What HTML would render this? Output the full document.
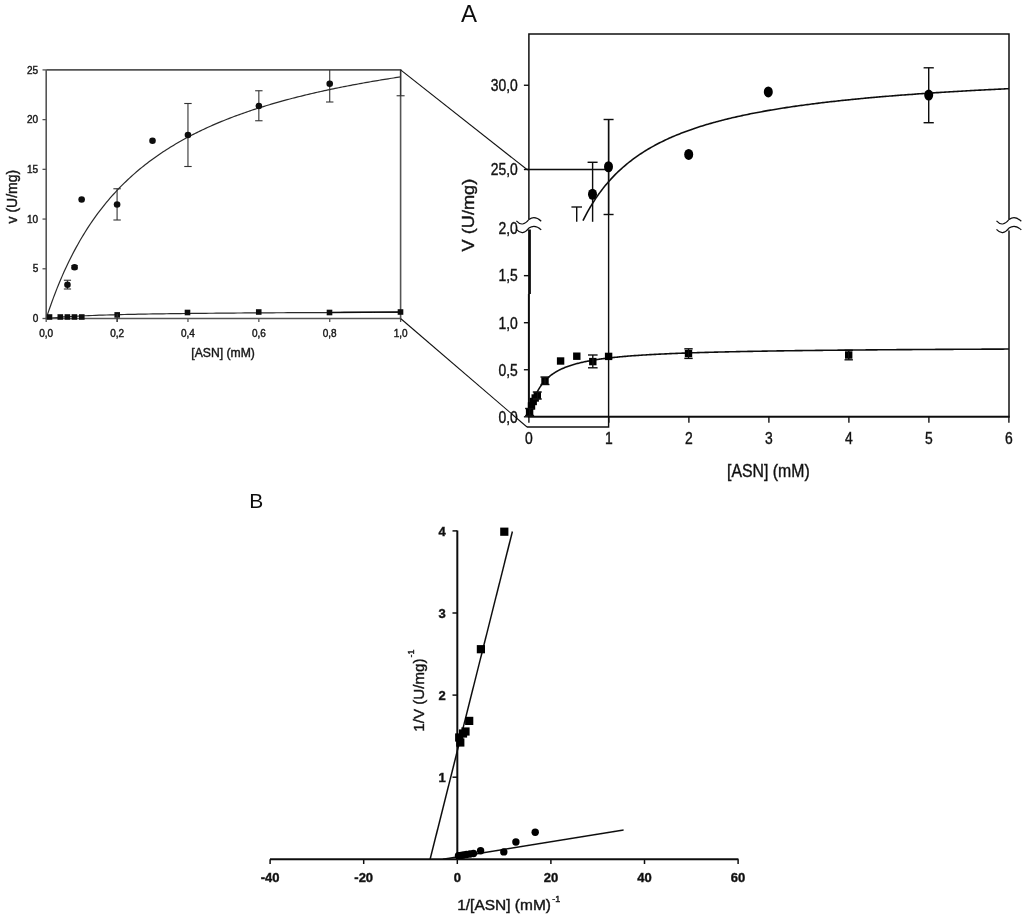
<!DOCTYPE html>
<html><head><meta charset="utf-8"><style>
html,body{margin:0;padding:0;background:#fff;}
svg{display:block;}
text{font-family:"Liberation Sans", sans-serif;stroke:#1a1a1a;stroke-width:0.4px;}
text.n{stroke:none;}
</style></head><body>
<svg width="1024" height="917" viewBox="0 0 1024 917">
<defs><filter id="bl" filterUnits="userSpaceOnUse" x="0" y="0" width="1024" height="917"><feGaussianBlur stdDeviation="0.45"/></filter></defs>
<rect width="1024" height="917" fill="#fff"/>
<g filter="url(#bl)">
<path d="M46.20,318.50 L47.97,313.14 L49.74,307.96 L51.52,302.96 L53.29,298.12 L55.06,293.43 L56.83,288.90 L58.60,284.50 L60.38,280.24 L62.15,276.12 L63.92,272.11 L65.69,268.22 L67.46,264.45 L69.24,260.78 L71.01,257.22 L72.78,253.75 L74.55,250.38 L76.32,247.11 L78.10,243.92 L79.87,240.81 L81.64,237.78 L83.41,234.84 L85.18,231.96 L86.96,229.16 L88.73,226.43 L90.50,223.76 L92.27,221.16 L94.04,218.63 L95.82,216.15 L97.59,213.72 L99.36,211.36 L101.13,209.05 L102.90,206.79 L104.68,204.58 L106.45,202.42 L108.22,200.30 L109.99,198.23 L111.76,196.21 L113.54,194.23 L115.31,192.29 L117.08,190.39 L118.85,188.53 L120.62,186.70 L122.40,184.91 L124.17,183.16 L125.94,181.45 L127.71,179.76 L129.48,178.11 L131.26,176.49 L133.03,174.90 L134.80,173.34 L136.57,171.81 L138.34,170.31 L140.12,168.83 L141.89,167.38 L143.66,165.96 L145.43,164.56 L147.20,163.19 L148.98,161.84 L150.75,160.51 L152.52,159.21 L154.29,157.93 L156.06,156.67 L157.84,155.43 L159.61,154.21 L161.38,153.01 L163.15,151.83 L164.92,150.67 L166.70,149.53 L168.47,148.41 L170.24,147.30 L172.01,146.22 L173.78,145.15 L175.56,144.09 L177.33,143.05 L179.10,142.03 L180.87,141.02 L182.64,140.03 L184.42,139.05 L186.19,138.09 L187.96,137.14 L189.73,136.20 L191.50,135.28 L193.28,134.37 L195.05,133.48 L196.82,132.59 L198.59,131.72 L200.36,130.87 L202.14,130.02 L203.91,129.18 L205.68,128.36 L207.45,127.55 L209.22,126.74 L211.00,125.95 L212.77,125.17 L214.54,124.40 L216.31,123.64 L218.08,122.89 L219.86,122.15 L221.63,121.42 L223.40,120.70 L225.17,119.98 L226.94,119.28 L228.72,118.59 L230.49,117.90 L232.26,117.22 L234.03,116.55 L235.80,115.89 L237.58,115.24 L239.35,114.59 L241.12,113.95 L242.89,113.32 L244.66,112.70 L246.44,112.09 L248.21,111.48 L249.98,110.88 L251.75,110.28 L253.52,109.69 L255.30,109.11 L257.07,108.54 L258.84,107.97 L260.61,107.41 L262.38,106.86 L264.16,106.31 L265.93,105.77 L267.70,105.23 L269.47,104.70 L271.24,104.17 L273.02,103.65 L274.79,103.14 L276.56,102.63 L278.33,102.13 L280.10,101.63 L281.88,101.14 L283.65,100.65 L285.42,100.17 L287.19,99.69 L288.96,99.22 L290.74,98.75 L292.51,98.29 L294.28,97.83 L296.05,97.38 L297.82,96.93 L299.60,96.49 L301.37,96.05 L303.14,95.61 L304.91,95.18 L306.68,94.75 L308.46,94.33 L310.23,93.91 L312.00,93.50 L313.77,93.09 L315.54,92.68 L317.32,92.28 L319.09,91.88 L320.86,91.48 L322.63,91.09 L324.40,90.71 L326.18,90.32 L327.95,89.94 L329.72,89.56 L331.49,89.19 L333.26,88.82 L335.04,88.45 L336.81,88.09 L338.58,87.73 L340.35,87.37 L342.12,87.02 L343.90,86.67 L345.67,86.32 L347.44,85.98 L349.21,85.63 L350.98,85.30 L352.76,84.96 L354.53,84.63 L356.30,84.30 L358.07,83.97 L359.84,83.65 L361.62,83.32 L363.39,83.01 L365.16,82.69 L366.93,82.38 L368.70,82.07 L370.48,81.76 L372.25,81.45 L374.02,81.15 L375.79,80.85 L377.56,80.55 L379.34,80.25 L381.11,79.96 L382.88,79.67 L384.65,79.38 L386.42,79.10 L388.20,78.81 L389.97,78.53 L391.74,78.25 L393.51,77.97 L395.28,77.70 L397.06,77.43 L398.83,77.16 L400.60,76.89" fill="none" stroke="#2a2a2a" stroke-width="1.2"/>
<path d="M46.20,318.50 L49.74,318.13 L53.29,317.79 L56.83,317.48 L60.38,317.20 L63.92,316.95 L67.46,316.71 L71.01,316.50 L74.55,316.30 L78.10,316.11 L81.64,315.94 L85.18,315.77 L88.73,315.62 L92.27,315.48 L95.82,315.35 L99.36,315.22 L102.90,315.11 L106.45,314.99 L109.99,314.89 L113.54,314.79 L117.08,314.69 L120.62,314.60 L124.17,314.52 L127.71,314.44 L131.26,314.36 L134.80,314.29 L138.34,314.21 L141.89,314.15 L145.43,314.08 L148.98,314.02 L152.52,313.96 L156.06,313.90 L159.61,313.85 L163.15,313.80 L166.70,313.75 L170.24,313.70 L173.78,313.65 L177.33,313.60 L180.87,313.56 L184.42,313.52 L187.96,313.48 L191.50,313.44 L195.05,313.40 L198.59,313.36 L202.14,313.33 L205.68,313.29 L209.22,313.26 L212.77,313.23 L216.31,313.19 L219.86,313.16 L223.40,313.13 L226.94,313.11 L230.49,313.08 L234.03,313.05 L237.58,313.02 L241.12,313.00 L244.66,312.97 L248.21,312.95 L251.75,312.92 L255.30,312.90 L258.84,312.88 L262.38,312.86 L265.93,312.83 L269.47,312.81 L273.02,312.79 L276.56,312.77 L280.10,312.75 L283.65,312.73 L287.19,312.72 L290.74,312.70 L294.28,312.68 L297.82,312.66 L301.37,312.65 L304.91,312.63 L308.46,312.61 L312.00,312.60 L315.54,312.58 L319.09,312.57 L322.63,312.55 L326.18,312.54 L329.72,312.52 L333.26,312.51 L336.81,312.49 L340.35,312.48 L343.90,312.47 L347.44,312.45 L350.98,312.44 L354.53,312.43 L358.07,312.42 L361.62,312.40 L365.16,312.39 L368.70,312.38 L372.25,312.37 L375.79,312.36 L379.34,312.35 L382.88,312.34 L386.42,312.33 L389.97,312.32 L393.51,312.31 L397.06,312.29 L400.60,312.29" fill="none" stroke="#2a2a2a" stroke-width="1.2"/>
<path d="M46.2,69.9 L400.59999999999997,69.9 L400.59999999999997,318.5 M46.2,69.9 L46.2,318.5 L400.59999999999997,318.5" fill="none" stroke="#555" stroke-width="1.6"/>
<line x1="42.5" y1="318.50" x2="46.2" y2="318.50" stroke="#555" stroke-width="1.3"/>
<text x="38.2" y="322.10" font-size="10" text-anchor="end" fill="#111">0</text>
<line x1="42.5" y1="268.78" x2="46.2" y2="268.78" stroke="#555" stroke-width="1.3"/>
<text x="38.2" y="272.38" font-size="10" text-anchor="end" fill="#111">5</text>
<line x1="42.5" y1="219.06" x2="46.2" y2="219.06" stroke="#555" stroke-width="1.3"/>
<text x="38.2" y="222.66" font-size="10" text-anchor="end" fill="#111">10</text>
<line x1="42.5" y1="169.34" x2="46.2" y2="169.34" stroke="#555" stroke-width="1.3"/>
<text x="38.2" y="172.94" font-size="10" text-anchor="end" fill="#111">15</text>
<line x1="42.5" y1="119.62" x2="46.2" y2="119.62" stroke="#555" stroke-width="1.3"/>
<text x="38.2" y="123.22" font-size="10" text-anchor="end" fill="#111">20</text>
<line x1="42.5" y1="69.90" x2="46.2" y2="69.90" stroke="#555" stroke-width="1.3"/>
<text x="38.2" y="73.50" font-size="10" text-anchor="end" fill="#111">25</text>
<line x1="46.20" y1="318.5" x2="46.20" y2="322" stroke="#555" stroke-width="1.3"/>
<text x="46.20" y="336.5" font-size="10" text-anchor="middle" fill="#111">0,0</text>
<line x1="117.08" y1="318.5" x2="117.08" y2="322" stroke="#555" stroke-width="1.3"/>
<text x="117.08" y="336.5" font-size="10" text-anchor="middle" fill="#111">0,2</text>
<line x1="187.96" y1="318.5" x2="187.96" y2="322" stroke="#555" stroke-width="1.3"/>
<text x="187.96" y="336.5" font-size="10" text-anchor="middle" fill="#111">0,4</text>
<line x1="258.84" y1="318.5" x2="258.84" y2="322" stroke="#555" stroke-width="1.3"/>
<text x="258.84" y="336.5" font-size="10" text-anchor="middle" fill="#111">0,6</text>
<line x1="329.72" y1="318.5" x2="329.72" y2="322" stroke="#555" stroke-width="1.3"/>
<text x="329.72" y="336.5" font-size="10" text-anchor="middle" fill="#111">0,8</text>
<line x1="400.60" y1="318.5" x2="400.60" y2="322" stroke="#555" stroke-width="1.3"/>
<text x="400.60" y="336.5" font-size="10" text-anchor="middle" fill="#111">1,0</text>
<text x="223.1" y="357.4" font-size="12.2" text-anchor="middle" fill="#111">[ASN] (mM)</text>
<text transform="translate(16.7,196.6) rotate(-90)" font-size="14" text-anchor="middle" fill="#111">v (U/mg)</text>
<line x1="67.46" y1="280.25" x2="67.46" y2="289.00" stroke="#333" stroke-width="1.1"/><line x1="63.86" y1="280.25" x2="71.06" y2="280.25" stroke="#333" stroke-width="1.1"/><line x1="63.86" y1="289.00" x2="71.06" y2="289.00" stroke="#333" stroke-width="1.1"/>
<line x1="74.55" y1="265.60" x2="74.55" y2="268.90" stroke="#333" stroke-width="1.1"/><line x1="71.35" y1="265.60" x2="77.75" y2="265.60" stroke="#333" stroke-width="1.1"/><line x1="71.35" y1="268.90" x2="77.75" y2="268.90" stroke="#333" stroke-width="1.1"/>
<line x1="117.08" y1="188.75" x2="117.08" y2="220.00" stroke="#333" stroke-width="1.1"/><line x1="113.38" y1="188.75" x2="120.78" y2="188.75" stroke="#333" stroke-width="1.1"/><line x1="113.38" y1="220.00" x2="120.78" y2="220.00" stroke="#333" stroke-width="1.1"/>
<line x1="187.96" y1="103.50" x2="187.96" y2="166.50" stroke="#333" stroke-width="1.1"/><line x1="184.26" y1="103.50" x2="191.66" y2="103.50" stroke="#333" stroke-width="1.1"/><line x1="184.26" y1="166.50" x2="191.66" y2="166.50" stroke="#333" stroke-width="1.1"/>
<line x1="258.84" y1="90.75" x2="258.84" y2="120.75" stroke="#333" stroke-width="1.1"/><line x1="255.14" y1="90.75" x2="262.54" y2="90.75" stroke="#333" stroke-width="1.1"/><line x1="255.14" y1="120.75" x2="262.54" y2="120.75" stroke="#333" stroke-width="1.1"/>
<line x1="329.72" y1="69.90" x2="329.72" y2="102.00" stroke="#333" stroke-width="1.1"/><line x1="326.02" y1="102.00" x2="333.42" y2="102.00" stroke="#333" stroke-width="1.1"/>
<line x1="400.60" y1="69.90" x2="400.60" y2="95.75" stroke="#333" stroke-width="1.1"/><line x1="396.60" y1="95.75" x2="404.60" y2="95.75" stroke="#333" stroke-width="1.1"/>
<circle cx="67.46" cy="284.75" r="3.3" fill="#111"/>
<circle cx="74.55" cy="267.25" r="3.3" fill="#111"/>
<circle cx="81.64" cy="199.50" r="3.3" fill="#111"/>
<circle cx="117.08" cy="204.50" r="3.3" fill="#111"/>
<circle cx="152.52" cy="140.75" r="3.3" fill="#111"/>
<circle cx="187.96" cy="135.00" r="3.3" fill="#111"/>
<circle cx="258.84" cy="106.00" r="3.3" fill="#111"/>
<circle cx="329.72" cy="83.75" r="3.3" fill="#111"/>
<rect x="46.70" y="314.20" width="5.6" height="5.6" fill="#111"/>
<rect x="57.50" y="314.20" width="5.6" height="5.6" fill="#111"/>
<rect x="64.60" y="314.20" width="5.6" height="5.6" fill="#111"/>
<rect x="71.60" y="314.20" width="5.6" height="5.6" fill="#111"/>
<rect x="79.00" y="314.20" width="5.6" height="5.6" fill="#111"/>
<rect x="114.40" y="312.10" width="5.6" height="5.6" fill="#111"/>
<rect x="184.70" y="309.70" width="5.6" height="5.6" fill="#111"/>
<rect x="255.95" y="309.20" width="5.6" height="5.6" fill="#111"/>
<rect x="326.70" y="309.70" width="5.6" height="5.6" fill="#111"/>
<rect x="397.70" y="309.20" width="5.6" height="5.6" fill="#111"/>
<line x1="329.5" y1="312.4" x2="400.6" y2="312.1" stroke="#111" stroke-width="1.5"/>
<line x1="117.2" y1="314" x2="117.2" y2="322" stroke="#333" stroke-width="1.1"/>
<line x1="400.6" y1="69.9" x2="527" y2="169.5" stroke="#111" stroke-width="1.1"/>
<line x1="400.6" y1="318.5" x2="527" y2="427" stroke="#111" stroke-width="1.1"/>
<path d="M582.98,220.63 L584.40,217.80 L585.82,215.08 L587.24,212.45 L588.66,209.91 L590.08,207.46 L591.50,205.08 L592.92,202.79 L594.34,200.57 L595.76,198.42 L597.18,196.34 L598.60,194.32 L600.02,192.36 L601.44,190.46 L602.86,188.62 L604.28,186.83 L605.70,185.09 L607.12,183.40 L608.54,181.75 L609.95,180.16 L611.37,178.60 L612.79,177.09 L614.21,175.61 L615.63,174.18 L617.05,172.78 L618.47,171.41 L619.89,170.08 L621.31,168.79 L622.73,167.52 L624.15,166.29 L625.57,165.08 L626.99,163.90 L628.41,162.75 L629.83,161.63 L631.25,160.53 L632.67,159.46 L634.09,158.41 L635.51,157.38 L636.93,156.38 L638.35,155.39 L639.77,154.43 L641.19,153.49 L642.61,152.57 L644.03,151.67 L645.45,150.78 L646.87,149.91 L648.29,149.06 L649.71,148.23 L651.13,147.42 L652.55,146.61 L653.97,145.83 L655.39,145.06 L656.81,144.30 L658.23,143.56 L659.65,142.83 L661.07,142.12 L662.49,141.42 L663.90,140.73 L665.32,140.05 L666.74,139.39 L668.16,138.73 L669.58,138.09 L671.00,137.46 L672.42,136.84 L673.84,136.23 L675.26,135.63 L676.68,135.04 L678.10,134.47 L679.52,133.90 L680.94,133.33 L682.36,132.78 L683.78,132.24 L685.20,131.71 L686.62,131.18 L688.04,130.66 L689.46,130.15 L690.88,129.65 L692.30,129.16 L693.72,128.67 L695.14,128.19 L696.56,127.72 L697.98,127.25 L699.40,126.80 L700.82,126.34 L702.24,125.90 L703.66,125.46 L705.08,125.03 L706.50,124.60 L707.92,124.18 L709.34,123.77 L710.76,123.36 L712.18,122.95 L713.60,122.56 L715.02,122.16 L716.43,121.78 L717.85,121.40 L719.27,121.02 L720.69,120.65 L722.11,120.28 L723.53,119.92 L724.95,119.56 L726.37,119.21 L727.79,118.86 L729.21,118.52 L730.63,118.18 L732.05,117.84 L733.47,117.51 L734.89,117.19 L736.31,116.86 L737.73,116.54 L739.15,116.23 L740.57,115.92 L741.99,115.61 L743.41,115.31 L744.83,115.01 L746.25,114.71 L747.67,114.42 L749.09,114.13 L750.51,113.84 L751.93,113.56 L753.35,113.28 L754.77,113.00 L756.19,112.73 L757.61,112.46 L759.03,112.19 L760.45,111.93 L761.87,111.67 L763.29,111.41 L764.71,111.15 L766.13,110.90 L767.55,110.65 L768.97,110.40 L770.38,110.16 L771.80,109.92 L773.22,109.68 L774.64,109.44 L776.06,109.20 L777.48,108.97 L778.90,108.74 L780.32,108.52 L781.74,108.29 L783.16,108.07 L784.58,107.85 L786.00,107.63 L787.42,107.41 L788.84,107.20 L790.26,106.99 L791.68,106.78 L793.10,106.57 L794.52,106.37 L795.94,106.16 L797.36,105.96 L798.78,105.76 L800.20,105.56 L801.62,105.37 L803.04,105.18 L804.46,104.98 L805.88,104.79 L807.30,104.61 L808.72,104.42 L810.14,104.23 L811.56,104.05 L812.98,103.87 L814.40,103.69 L815.82,103.51 L817.24,103.34 L818.66,103.16 L820.08,102.99 L821.50,102.82 L822.91,102.65 L824.33,102.48 L825.75,102.31 L827.17,102.14 L828.59,101.98 L830.01,101.82 L831.43,101.66 L832.85,101.50 L834.27,101.34 L835.69,101.18 L837.11,101.03 L838.53,100.87 L839.95,100.72 L841.37,100.57 L842.79,100.42 L844.21,100.27 L845.63,100.12 L847.05,99.97 L848.47,99.83 L849.89,99.68 L851.31,99.54 L852.73,99.40 L854.15,99.25 L855.57,99.12 L856.99,98.98 L858.41,98.84 L859.83,98.70 L861.25,98.57 L862.67,98.43 L864.09,98.30 L865.51,98.17 L866.93,98.04 L868.35,97.91 L869.77,97.78 L871.19,97.65 L872.61,97.52 L874.03,97.40 L875.45,97.27 L876.86,97.15 L878.28,97.02 L879.70,96.90 L881.12,96.78 L882.54,96.66 L883.96,96.54 L885.38,96.42 L886.80,96.30 L888.22,96.19 L889.64,96.07 L891.06,95.96 L892.48,95.84 L893.90,95.73 L895.32,95.62 L896.74,95.50 L898.16,95.39 L899.58,95.28 L901.00,95.17 L902.42,95.07 L903.84,94.96 L905.26,94.85 L906.68,94.74 L908.10,94.64 L909.52,94.53 L910.94,94.43 L912.36,94.33 L913.78,94.22 L915.20,94.12 L916.62,94.02 L918.04,93.92 L919.46,93.82 L920.88,93.72 L922.30,93.62 L923.72,93.53 L925.14,93.43 L926.56,93.33 L927.98,93.24 L929.39,93.14 L930.81,93.05 L932.23,92.95 L933.65,92.86 L935.07,92.77 L936.49,92.67 L937.91,92.58 L939.33,92.49 L940.75,92.40 L942.17,92.31 L943.59,92.22 L945.01,92.13 L946.43,92.05 L947.85,91.96 L949.27,91.87 L950.69,91.79 L952.11,91.70 L953.53,91.61 L954.95,91.53 L956.37,91.45 L957.79,91.36 L959.21,91.28 L960.63,91.20 L962.05,91.12 L963.47,91.03 L964.89,90.95 L966.31,90.87 L967.73,90.79 L969.15,90.71 L970.57,90.63 L971.99,90.55 L973.41,90.48 L974.83,90.40 L976.25,90.32 L977.67,90.25 L979.09,90.17 L980.51,90.09 L981.93,90.02 L983.34,89.94 L984.76,89.87 L986.18,89.80 L987.60,89.72 L989.02,89.65 L990.44,89.58 L991.86,89.50 L993.28,89.43 L994.70,89.36 L996.12,89.29 L997.54,89.22 L998.96,89.15 L1000.38,89.08 L1001.80,89.01 L1003.22,88.94 L1004.64,88.87 L1006.06,88.80 L1007.48,88.74 L1008.90,88.67" fill="none" stroke="#111" stroke-width="1.6"/>
<path d="M528.90,416.80 L528.93,416.65 L529.00,416.34 L529.09,415.92 L529.20,415.42 L529.33,414.85 L529.48,414.21 L529.64,413.52 L529.82,412.78 L530.01,412.00 L530.21,411.19 L530.43,410.36 L530.66,409.49 L530.90,408.61 L531.15,407.72 L531.41,406.81 L531.68,405.89 L531.97,404.97 L532.26,404.04 L532.56,403.11 L532.88,402.19 L533.20,401.26 L533.53,400.35 L533.87,399.44 L534.22,398.53 L534.58,397.64 L534.95,396.75 L535.33,395.88 L535.71,395.02 L536.11,394.16 L536.51,393.33 L536.92,392.50 L537.34,391.69 L537.76,390.89 L538.20,390.11 L538.64,389.34 L539.09,388.59 L539.54,387.85 L540.01,387.12 L540.48,386.41 L540.96,385.71 L541.44,385.03 L541.94,384.36 L542.44,383.70 L542.94,383.06 L543.46,382.43 L543.98,381.82 L544.51,381.22 L545.04,380.63 L545.58,380.06 L546.13,379.49 L546.69,378.94 L547.25,378.41 L547.81,377.88 L548.39,377.36 L548.97,376.86 L549.56,376.37 L550.15,375.89 L550.75,375.42 L551.35,374.96 L551.97,374.51 L552.58,374.07 L553.21,373.64 L553.84,373.21 L554.48,372.80 L555.12,372.40 L555.77,372.01 L556.42,371.62 L557.08,371.24 L557.75,370.87 L558.42,370.51 L559.10,370.16 L559.78,369.81 L560.47,369.48 L561.16,369.15 L561.86,368.82 L562.57,368.50 L563.28,368.19 L564.00,367.89 L564.72,367.59 L565.45,367.30 L566.18,367.01 L566.92,366.73 L567.67,366.46 L568.42,366.19 L569.17,365.93 L569.93,365.67 L570.70,365.42 L571.47,365.17 L572.25,364.93 L573.03,364.69 L573.82,364.46 L574.61,364.23 L575.41,364.00 L576.21,363.78 L577.02,363.57 L577.83,363.36 L578.65,363.15 L579.47,362.95 L580.30,362.75 L581.13,362.55 L581.97,362.36 L582.81,362.17 L583.66,361.99 L584.52,361.80 L585.37,361.62 L586.24,361.45 L587.10,361.28 L587.98,361.11 L588.86,360.94 L589.74,360.78 L590.63,360.62 L591.52,360.46 L592.41,360.31 L593.32,360.16 L594.22,360.01 L595.13,359.86 L596.05,359.72 L596.97,359.57 L597.90,359.44 L598.83,359.30 L599.76,359.16 L600.70,359.03 L601.64,358.90 L602.59,358.77 L603.55,358.65 L604.50,358.52 L605.47,358.40 L606.43,358.28 L607.40,358.16 L608.38,358.05 L609.36,357.93 L610.34,357.82 L611.33,357.71 L612.33,357.60 L613.33,357.50 L614.33,357.39 L615.34,357.29 L616.35,357.18 L617.36,357.08 L618.38,356.98 L619.41,356.89 L620.44,356.79 L621.47,356.70 L622.51,356.60 L623.55,356.51 L624.60,356.42 L625.65,356.33 L626.71,356.24 L627.77,356.16 L628.83,356.07 L629.90,355.99 L630.97,355.90 L632.05,355.82 L633.13,355.74 L634.21,355.66 L635.30,355.58 L636.39,355.51 L637.49,355.43 L638.59,355.36 L639.70,355.28 L640.81,355.21 L641.92,355.14 L643.04,355.07 L644.16,355.00 L645.29,354.93 L646.42,354.86 L647.56,354.79 L648.70,354.72 L649.84,354.66 L650.99,354.59 L652.14,354.53 L653.29,354.47 L654.45,354.41 L655.61,354.34 L656.78,354.28 L657.95,354.22 L659.13,354.16 L660.31,354.11 L661.49,354.05 L662.68,353.99 L663.87,353.94 L665.06,353.88 L666.26,353.83 L667.47,353.77 L668.67,353.72 L669.88,353.67 L671.10,353.61 L672.32,353.56 L673.54,353.51 L674.76,353.46 L676.00,353.41 L677.23,353.36 L678.47,353.31 L679.71,353.27 L680.95,353.22 L682.20,353.17 L683.46,353.13 L684.72,353.08 L685.98,353.04 L687.24,352.99 L688.51,352.95 L689.78,352.90 L691.06,352.86 L692.34,352.82 L693.62,352.78 L694.91,352.73 L696.20,352.69 L697.50,352.65 L698.79,352.61 L700.10,352.57 L701.40,352.53 L702.71,352.50 L704.03,352.46 L705.34,352.42 L706.67,352.38 L707.99,352.34 L709.32,352.31 L710.65,352.27 L711.99,352.23 L713.33,352.20 L714.67,352.16 L716.02,352.13 L717.37,352.09 L718.72,352.06 L720.08,352.03 L721.44,351.99 L722.80,351.96 L724.17,351.93 L725.54,351.89 L726.92,351.86 L728.30,351.83 L729.68,351.80 L731.07,351.77 L732.46,351.74 L733.85,351.71 L735.25,351.68 L736.65,351.65 L738.06,351.62 L739.46,351.59 L740.87,351.56 L742.29,351.53 L743.71,351.50 L745.13,351.47 L746.56,351.45 L747.98,351.42 L749.42,351.39 L750.85,351.36 L752.29,351.34 L753.74,351.31 L755.18,351.29 L756.63,351.26 L758.08,351.23 L759.54,351.21 L761.00,351.18 L762.47,351.16 L763.93,351.13 L765.40,351.11 L766.88,351.08 L768.36,351.06 L769.84,351.04 L771.32,351.01 L772.81,350.99 L774.30,350.97 L775.79,350.94 L777.29,350.92 L778.79,350.90 L780.30,350.87 L781.81,350.85 L783.32,350.83 L784.83,350.81 L786.35,350.79 L787.87,350.77 L789.40,350.74 L790.93,350.72 L792.46,350.70 L793.99,350.68 L795.53,350.66 L797.07,350.64 L798.62,350.62 L800.17,350.60 L801.72,350.58 L803.27,350.56 L804.83,350.54 L806.39,350.52 L807.96,350.50 L809.53,350.48 L811.10,350.47 L812.67,350.45 L814.25,350.43 L815.83,350.41 L817.42,350.39 L819.01,350.37 L820.60,350.36 L822.19,350.34 L823.79,350.32 L825.39,350.30 L827.00,350.29 L828.60,350.27 L830.21,350.25 L831.83,350.24 L833.45,350.22 L835.07,350.20 L836.69,350.19 L838.32,350.17 L839.95,350.15 L841.58,350.14 L843.22,350.12 L844.86,350.11 L846.50,350.09 L848.14,350.07 L849.79,350.06 L851.45,350.04 L853.10,350.03 L854.76,350.01 L856.42,350.00 L858.09,349.98 L859.76,349.97 L861.43,349.95 L863.10,349.94 L864.78,349.93 L866.46,349.91 L868.15,349.90 L869.83,349.88 L871.52,349.87 L873.22,349.85 L874.91,349.84 L876.61,349.83 L878.32,349.81 L880.02,349.80 L881.73,349.79 L883.44,349.77 L885.16,349.76 L886.88,349.75 L888.60,349.73 L890.32,349.72 L892.05,349.71 L893.78,349.70 L895.52,349.68 L897.25,349.67 L898.99,349.66 L900.74,349.65 L902.48,349.63 L904.23,349.62 L905.98,349.61 L907.74,349.60 L909.50,349.59 L911.26,349.58 L913.02,349.56 L914.79,349.55 L916.56,349.54 L918.34,349.53 L920.11,349.52 L921.89,349.51 L923.68,349.49 L925.46,349.48 L927.25,349.47 L929.04,349.46 L930.84,349.45 L932.63,349.44 L934.44,349.43 L936.24,349.42 L938.05,349.41 L939.86,349.40 L941.67,349.39 L943.49,349.38 L945.30,349.37 L947.13,349.36 L948.95,349.35 L950.78,349.34 L952.61,349.33 L954.44,349.32 L956.28,349.31 L958.12,349.30 L959.96,349.29 L961.81,349.28 L963.66,349.27 L965.51,349.26 L967.36,349.25 L969.22,349.24 L971.08,349.23 L972.94,349.22 L974.81,349.21 L976.68,349.20 L978.55,349.19 L980.43,349.18 L982.30,349.17 L984.18,349.17 L986.07,349.16 L987.95,349.15 L989.84,349.14 L991.74,349.13 L993.63,349.12 L995.53,349.11 L997.43,349.10 L999.34,349.10 L1001.24,349.09 L1003.15,349.08 L1005.07,349.07 L1006.98,349.06 L1008.90,349.05" fill="none" stroke="#111" stroke-width="1.6"/>
<path d="M528.9,219.3 L528.9,33.9 L1009.0,33.9 L1009.0,219.3" fill="none" stroke="#111" stroke-width="1.5"/>
<line x1="1009.0" y1="230.5" x2="1009.0" y2="416.8" stroke="#111" stroke-width="1.5"/>
<line x1="528.9" y1="294" x2="528.9" y2="416.8" stroke="#111" stroke-width="2"/>
<line x1="529.5" y1="229.5" x2="529.5" y2="294" stroke="#111" stroke-width="2.8"/>
<line x1="527.9" y1="416.8" x2="1009.7" y2="416.8" stroke="#111" stroke-width="2"/>
<path d="M516.4,220.8 Q522.6,227.8 528.9,219.5 Q534.9,215.2 541.2,221.3" fill="none" stroke="#111" stroke-width="1.2"/><path d="M516.4,229.4 Q522.6,236.4 528.9,228.1 Q534.9,223.8 541.2,229.9" fill="none" stroke="#111" stroke-width="1.2"/>
<path d="M996.5,220.8 Q1002.7,227.8 1009.0,219.5 Q1015.0,215.2 1021.3,221.3" fill="none" stroke="#111" stroke-width="1.2"/><path d="M996.5,229.4 Q1002.7,236.4 1009.0,228.1 Q1015.0,223.8 1021.3,229.9" fill="none" stroke="#111" stroke-width="1.2"/>
<line x1="523.9" y1="416.80" x2="528.9" y2="416.80" stroke="#111" stroke-width="1.4"/>
<text transform="translate(517.8,422.60) scale(0.86,1)" font-size="16.2" text-anchor="end" fill="#111">0,0</text>
<line x1="523.9" y1="369.75" x2="528.9" y2="369.75" stroke="#111" stroke-width="1.4"/>
<text transform="translate(517.8,375.55) scale(0.86,1)" font-size="16.2" text-anchor="end" fill="#111">0,5</text>
<line x1="523.9" y1="322.70" x2="528.9" y2="322.70" stroke="#111" stroke-width="1.4"/>
<text transform="translate(517.8,328.50) scale(0.86,1)" font-size="16.2" text-anchor="end" fill="#111">1,0</text>
<line x1="523.9" y1="275.65" x2="528.9" y2="275.65" stroke="#111" stroke-width="1.4"/>
<text transform="translate(517.8,281.45) scale(0.86,1)" font-size="16.2" text-anchor="end" fill="#111">1,5</text>
<text transform="translate(517.8,234.40) scale(0.86,1)" font-size="16.2" text-anchor="end" fill="#111">2,0</text>
<line x1="523.9" y1="169.50" x2="528.9" y2="169.50" stroke="#111" stroke-width="1.4"/>
<text transform="translate(517.8,175.30) scale(0.86,1)" font-size="16.2" text-anchor="end" fill="#111">25,0</text>
<line x1="523.9" y1="85.25" x2="528.9" y2="85.25" stroke="#111" stroke-width="1.4"/>
<text transform="translate(517.8,91.05) scale(0.86,1)" font-size="16.2" text-anchor="end" fill="#111">30,0</text>
<line x1="528.90" y1="416.8" x2="528.90" y2="422.8" stroke="#111" stroke-width="1.4"/>
<text transform="translate(528.90,444.3) scale(0.86,1)" font-size="16.2" text-anchor="middle" fill="#111">0</text>
<line x1="608.90" y1="416.8" x2="608.90" y2="422.8" stroke="#111" stroke-width="1.4"/>
<text transform="translate(608.90,444.3) scale(0.86,1)" font-size="16.2" text-anchor="middle" fill="#111">1</text>
<line x1="688.90" y1="416.8" x2="688.90" y2="422.8" stroke="#111" stroke-width="1.4"/>
<text transform="translate(688.90,444.3) scale(0.86,1)" font-size="16.2" text-anchor="middle" fill="#111">2</text>
<line x1="768.90" y1="416.8" x2="768.90" y2="422.8" stroke="#111" stroke-width="1.4"/>
<text transform="translate(768.90,444.3) scale(0.86,1)" font-size="16.2" text-anchor="middle" fill="#111">3</text>
<line x1="848.90" y1="416.8" x2="848.90" y2="422.8" stroke="#111" stroke-width="1.4"/>
<text transform="translate(848.90,444.3) scale(0.86,1)" font-size="16.2" text-anchor="middle" fill="#111">4</text>
<line x1="928.90" y1="416.8" x2="928.90" y2="422.8" stroke="#111" stroke-width="1.4"/>
<text transform="translate(928.90,444.3) scale(0.86,1)" font-size="16.2" text-anchor="middle" fill="#111">5</text>
<line x1="1008.90" y1="416.8" x2="1008.90" y2="422.8" stroke="#111" stroke-width="1.4"/>
<text transform="translate(1008.90,444.3) scale(0.86,1)" font-size="16.2" text-anchor="middle" fill="#111">6</text>
<text x="768.4" y="477.2" font-size="18" text-anchor="middle" textLength="82.6" lengthAdjust="spacingAndGlyphs" fill="#111">[ASN] (mM)</text>
<text transform="translate(473.6,215.1) rotate(-90)" font-size="17" text-anchor="middle" textLength="72.6" lengthAdjust="spacingAndGlyphs" fill="#111">V (U/mg)</text>
<path d="M527,169.5 L608.6,169.5 M608.6,119.5 L608.6,427 L527,427" fill="none" stroke="#111" stroke-width="1.4"/>
<line x1="592.60" y1="162.30" x2="592.60" y2="221.80" stroke="#111" stroke-width="1.4"/><line x1="587.60" y1="162.30" x2="597.60" y2="162.30" stroke="#111" stroke-width="1.4"/>
<line x1="576.70" y1="207.00" x2="576.70" y2="221.80" stroke="#111" stroke-width="1.4"/><line x1="571.40" y1="207.00" x2="582.00" y2="207.00" stroke="#111" stroke-width="1.4"/>
<line x1="608.60" y1="119.50" x2="608.60" y2="214.50" stroke="#111" stroke-width="1.4"/><line x1="603.60" y1="119.50" x2="613.60" y2="119.50" stroke="#111" stroke-width="1.4"/><line x1="603.60" y1="214.50" x2="613.60" y2="214.50" stroke="#111" stroke-width="1.4"/>
<line x1="928.70" y1="67.80" x2="928.70" y2="122.70" stroke="#111" stroke-width="1.4"/><line x1="923.60" y1="67.80" x2="933.80" y2="67.80" stroke="#111" stroke-width="1.4"/><line x1="923.60" y1="122.70" x2="933.80" y2="122.70" stroke="#111" stroke-width="1.4"/>
<ellipse cx="592.5" cy="194.25" rx="4.5" ry="5.5" fill="#000"/>
<ellipse cx="608.5" cy="166.75" rx="4.5" ry="5.5" fill="#000"/>
<ellipse cx="688.7" cy="154.4" rx="4.5" ry="5.5" fill="#000"/>
<ellipse cx="768.3" cy="91.9" rx="4.5" ry="5.5" fill="#000"/>
<ellipse cx="928.7" cy="95.1" rx="4.5" ry="5.5" fill="#000"/>
<rect x="525.90" y="408.50" width="7.4" height="7.4" fill="#000"/>
<rect x="527.80" y="402.30" width="7.4" height="7.4" fill="#000"/>
<rect x="529.50" y="397.80" width="7.4" height="7.4" fill="#000"/>
<rect x="531.50" y="394.30" width="7.4" height="7.4" fill="#000"/>
<rect x="533.60" y="391.80" width="7.4" height="7.4" fill="#000"/>
<rect x="541.30" y="377.10" width="7.4" height="7.4" fill="#000"/>
<rect x="556.90" y="357.30" width="7.4" height="7.4" fill="#000"/>
<rect x="573.10" y="352.50" width="7.4" height="7.4" fill="#000"/>
<rect x="589.10" y="357.90" width="7.4" height="7.4" fill="#000"/>
<rect x="604.90" y="352.70" width="7.4" height="7.4" fill="#000"/>
<rect x="684.80" y="349.80" width="7.4" height="7.4" fill="#000"/>
<rect x="845.00" y="351.30" width="7.4" height="7.4" fill="#000"/>
<line x1="592.80" y1="355.00" x2="592.80" y2="367.80" stroke="#111" stroke-width="1.4"/><line x1="588.00" y1="355.00" x2="597.60" y2="355.00" stroke="#111" stroke-width="1.4"/><line x1="588.00" y1="367.80" x2="597.60" y2="367.80" stroke="#111" stroke-width="1.4"/>
<line x1="688.50" y1="348.80" x2="688.50" y2="358.40" stroke="#111" stroke-width="1.4"/><line x1="684.30" y1="348.80" x2="692.70" y2="348.80" stroke="#111" stroke-width="1.4"/><line x1="684.30" y1="358.40" x2="692.70" y2="358.40" stroke="#111" stroke-width="1.4"/>
<line x1="848.70" y1="350.30" x2="848.70" y2="359.80" stroke="#111" stroke-width="1.4"/><line x1="844.50" y1="350.30" x2="852.90" y2="350.30" stroke="#111" stroke-width="1.4"/><line x1="844.50" y1="359.80" x2="852.90" y2="359.80" stroke="#111" stroke-width="1.4"/>
<line x1="545.00" y1="377.00" x2="545.00" y2="384.50" stroke="#111" stroke-width="1.4"/><line x1="540.50" y1="377.00" x2="549.50" y2="377.00" stroke="#111" stroke-width="1.4"/><line x1="540.50" y1="384.50" x2="549.50" y2="384.50" stroke="#111" stroke-width="1.4"/>
<line x1="537.30" y1="392.00" x2="537.30" y2="399.00" stroke="#111" stroke-width="1.4"/><line x1="532.80" y1="392.00" x2="541.80" y2="392.00" stroke="#111" stroke-width="1.4"/><line x1="532.80" y1="399.00" x2="541.80" y2="399.00" stroke="#111" stroke-width="1.4"/>
<line x1="529.60" y1="408.50" x2="529.60" y2="415.50" stroke="#111" stroke-width="1.4"/><line x1="525.10" y1="408.50" x2="534.10" y2="408.50" stroke="#111" stroke-width="1.4"/><line x1="525.10" y1="415.50" x2="534.10" y2="415.50" stroke="#111" stroke-width="1.4"/>
<text class="n" x="461" y="22.3" font-size="24" fill="#111">A</text>
<line x1="430.1" y1="859.3" x2="512.4" y2="531.5" stroke="#111" stroke-width="1.5"/>
<line x1="442.9" y1="859.3" x2="623.6" y2="829.9" stroke="#111" stroke-width="1.5"/>
<line x1="457.3" y1="530.60" x2="457.3" y2="859.3" stroke="#111" stroke-width="2"/>
<line x1="270" y1="859.3" x2="738.4" y2="859.3" stroke="#111" stroke-width="2"/>
<line x1="452.5" y1="777.20" x2="457.3" y2="777.20" stroke="#111" stroke-width="1.5"/>
<text x="445.8" y="782.10" font-size="13" font-weight="bold" text-anchor="end" fill="#111">1</text>
<line x1="452.5" y1="695.10" x2="457.3" y2="695.10" stroke="#111" stroke-width="1.5"/>
<text x="445.8" y="700.00" font-size="13" font-weight="bold" text-anchor="end" fill="#111">2</text>
<line x1="452.5" y1="613.00" x2="457.3" y2="613.00" stroke="#111" stroke-width="1.5"/>
<text x="445.8" y="617.90" font-size="13" font-weight="bold" text-anchor="end" fill="#111">3</text>
<line x1="452.5" y1="530.90" x2="457.3" y2="530.90" stroke="#111" stroke-width="1.5"/>
<text x="445.8" y="535.80" font-size="13" font-weight="bold" text-anchor="end" fill="#111">4</text>
<line x1="270.10" y1="859.3" x2="270.10" y2="864" stroke="#111" stroke-width="1.5"/>
<text x="270.10" y="882.2" font-size="13" font-weight="bold" text-anchor="middle" fill="#111">-40</text>
<line x1="363.70" y1="859.3" x2="363.70" y2="864" stroke="#111" stroke-width="1.5"/>
<text x="363.70" y="882.2" font-size="13" font-weight="bold" text-anchor="middle" fill="#111">-20</text>
<line x1="457.30" y1="859.3" x2="457.30" y2="864" stroke="#111" stroke-width="1.5"/>
<text x="457.30" y="882.2" font-size="13" font-weight="bold" text-anchor="middle" fill="#111">0</text>
<line x1="550.90" y1="859.3" x2="550.90" y2="864" stroke="#111" stroke-width="1.5"/>
<text x="550.90" y="882.2" font-size="13" font-weight="bold" text-anchor="middle" fill="#111">20</text>
<line x1="644.50" y1="859.3" x2="644.50" y2="864" stroke="#111" stroke-width="1.5"/>
<text x="644.50" y="882.2" font-size="13" font-weight="bold" text-anchor="middle" fill="#111">40</text>
<line x1="738.10" y1="859.3" x2="738.10" y2="864" stroke="#111" stroke-width="1.5"/>
<text x="738.10" y="882.2" font-size="13" font-weight="bold" text-anchor="middle" fill="#111">60</text>
<text x="457.2" y="910.2" font-size="15" textLength="93.8" lengthAdjust="spacingAndGlyphs" fill="#111">1/[ASN] (mM)</text>
<text x="552.3" y="901.5" font-size="9" fill="#111">-1</text>
<text transform="translate(423.6,695.1) rotate(-90)" font-size="15" text-anchor="middle" textLength="73.1" lengthAdjust="spacingAndGlyphs" fill="#111">1/V (U/mg)</text>
<text transform="translate(413.5,657.6) rotate(-90)" font-size="9" fill="#111">-1</text>
<rect x="455.10" y="733.40" width="8.2" height="8.2" fill="#000"/>
<rect x="456.20" y="738.40" width="8.2" height="8.2" fill="#000"/>
<rect x="458.90" y="729.40" width="8.2" height="8.2" fill="#000"/>
<rect x="461.40" y="727.40" width="8.2" height="8.2" fill="#000"/>
<rect x="465.10" y="716.80" width="8.2" height="8.2" fill="#000"/>
<rect x="476.80" y="645.10" width="8.2" height="8.2" fill="#000"/>
<rect x="500.20" y="527.60" width="8.2" height="8.2" fill="#000"/>
<circle cx="458.5" cy="855.8" r="3.7" fill="#000"/>
<circle cx="461" cy="855.5" r="3.7" fill="#000"/>
<circle cx="463.5" cy="855" r="3.7" fill="#000"/>
<circle cx="466.5" cy="854.5" r="3.7" fill="#000"/>
<circle cx="470" cy="854" r="3.7" fill="#000"/>
<circle cx="473.5" cy="853.5" r="3.7" fill="#000"/>
<circle cx="480.6" cy="850.7" r="3.7" fill="#000"/>
<circle cx="503.8" cy="851.9" r="3.7" fill="#000"/>
<circle cx="515.9" cy="842" r="3.7" fill="#000"/>
<circle cx="535.2" cy="832.3" r="3.7" fill="#000"/>
<text class="n" x="249.3" y="507.9" font-size="21" fill="#111">B</text>
</g>
</svg>
</body></html>
